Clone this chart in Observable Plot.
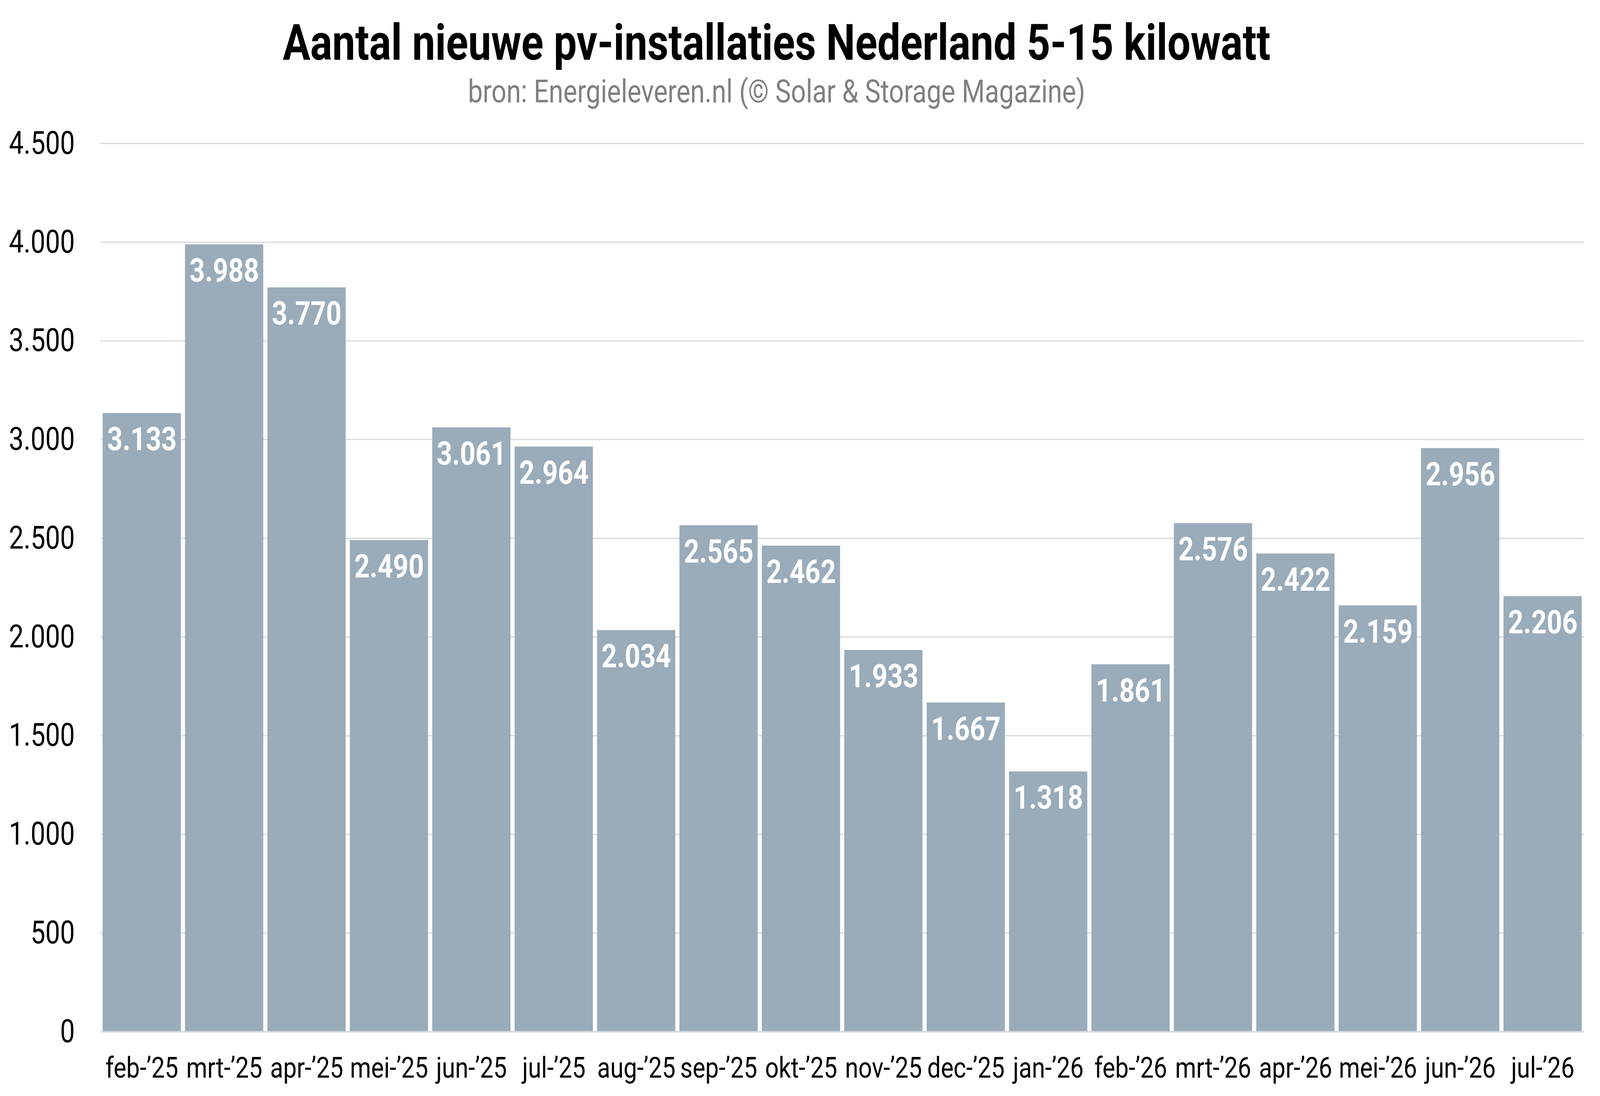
<!DOCTYPE html>
<html><head><meta charset="utf-8">
<script src="https://cdn.jsdelivr.net/npm/d3@7"></script>
<script src="https://cdn.jsdelivr.net/npm/@observablehq/plot@0.6"></script>
<style>
html,body{margin:0;padding:0;background:#fff;overflow:hidden;font-family:Roboto,sans-serif;}
#page{position:absolute;left:0;top:0;width:4990px;height:2807px;transform-origin:0 0;background:#fff;}
#header{position:relative;width:4990px;height:300px;}
#title{position:absolute;left:0;width:4844px;top:45px;text-align:center;font-weight:700;font-size:128px;line-height:128px;color:#000;white-space:nowrap;}
#subtitle{position:absolute;left:0;width:4844px;top:193px;text-align:center;font-weight:400;font-size:82px;line-height:82px;color:#808080;white-space:nowrap;}
#chart svg{display:block;max-width:none;}
</style>
</head><body>
<div id="page">
<div id="header">
<div id="title">Aantal nieuwe pv-installaties Nederland 5-15 kilowatt</div>
<div id="subtitle">bron: Energieleveren.nl (© Solar &amp; Storage Magazine)</div>
</div>
<div id="chart"></div>
</div>
<script>
const months = ["feb-’25","mrt-’25","apr-’25","mei-’25","jun-’25","jul-’25","aug-’25","sep-’25","okt-’25","nov-’25","dec-’25","jan-’26","feb-’26","mrt-’26","apr-’26","mei-’26","jun-’26","jul-’26"];
const values = [3133,3988,3770,2490,3061,2964,2034,2565,2462,1933,1667,1318,1861,2576,2422,2159,2956,2206];
const yTicks = [0,500,1000,1500,2000,2500,3000,3500,4000,4500];

const data = months.map((m,i)=>({month:m, value:values[i]}));
const nl = d3.formatLocale({decimal:",", thousands:".", grouping:[3], currency:["€",""]});
const fmt = nl.format(",d");

const chart = Plot.plot({
  width:4990, height:2507,
  marginTop:67, marginBottom:165, marginLeft:313, marginRight:50,
  style:{fontFamily:"Roboto", background:"white", color:"black", maxWidth:"none"},
  x:{domain:months, paddingInner:0.05, paddingOuter:0.025, label:null},
  y:{domain:[0,4500], ticks:yTicks, label:null, tickFormat:fmt},
  marks:[
    Plot.gridY(yTicks,{stroke:"#d9d9d9", strokeOpacity:1, strokeWidth:3}),
    Plot.barY(data,{x:"month", y:"value", fill:"#9aabba"}),
    Plot.ruleY([0],{stroke:"#d3dadf", strokeWidth:4}),
    Plot.text(data,{x:"month", y:"value", text:d=>fmt(d.value), dy:68, fill:"white", fontWeight:700, fontSize:84}),
    Plot.axisY(yTicks,{tickSize:0, tickPadding:80, fontSize:82, tickFormat:fmt, label:null}),
    Plot.axisX({tickSize:0, tickPadding:64, fontSize:75, label:null})
  ]
});
document.getElementById("chart").appendChild(chart);

// fit the 4990x2807 design to the actual viewport
function fit(){
  const sx = (window.innerWidth || 4990) / 4990;
  const sy = (window.innerHeight || 2807) / 2807;
  document.getElementById("page").style.transform = `scale(${sx}, ${sy})`;
}
fit();
window.addEventListener("resize", fit);
</script>
</body></html>
